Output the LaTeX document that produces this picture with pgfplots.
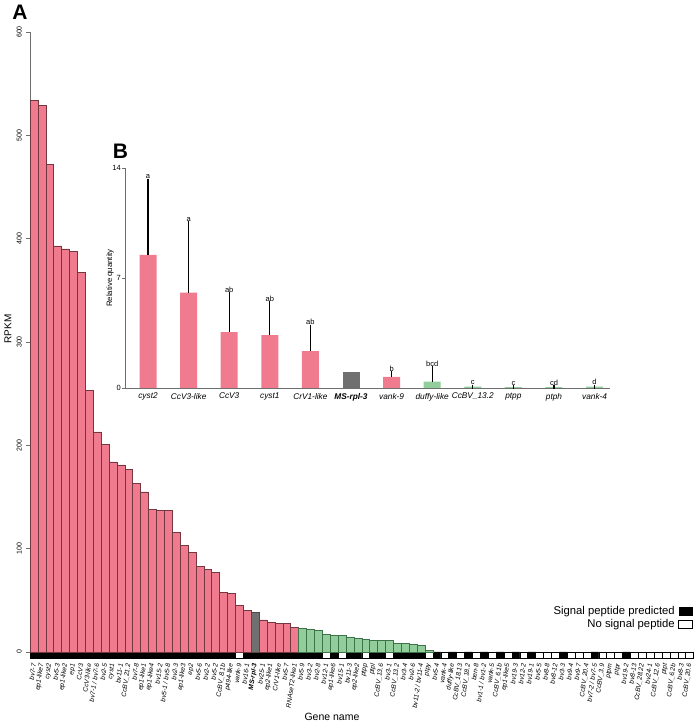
\documentclass[border=0pt]{standalone}
\usepackage{fontspec}
\setmainfont{Liberation Sans}
\usepackage{pgfplots}
\pgfplotsset{compat=1.18}
\definecolor{pinkbar}{RGB}{240,122,142}
\definecolor{pinkedge}{RGB}{115,55,65}
\definecolor{greenbar}{RGB}{146,205,156}
\definecolor{greenedge}{RGB}{60,115,72}
\definecolor{graybar}{RGB}{112,112,112}
\definecolor{axisgray}{RGB}{110,110,110}
\begin{document}
\begin{tikzpicture}[x=1pt,y=1pt]
\useasboundingbox (0,0) rectangle (694,728);
\begin{axis}[
  at={(30pt,69.3pt)}, anchor=south west,
  scale only axis, width=663.6pt, height=626.7pt,
  xmin=0.5, xmax=84.5, ymin=-6.5, ymax=600,
  axis x line*=bottom, axis y line*=left,
  x axis line style={draw=none}, y axis line style={draw=none},
  clip=false,
  /pgf/number format/assume math mode=true,
  xtick={1,...,84},
  xticklabels={bv7-7, ep1-like7, cyst2, bv5-3, ep1-like2, ep1, CcV3, CcV3-like, bv7-1 / bv7-6, bv2-5, cyst1, bv11-1, CcBV\_21.2, bv7-8, ep1-like1, ep1-like4, bv15-2, bv5-1 / bv5-8, bv2-3, ep1-like3, ep2, bv5-6, bv2-2, bv5-2, CcBV\_8.1b, p494-like, vank-9, bv16-1, \textbf{MS-rpl-3}, bv25-1, ep2-like1, CrV1-like, bv5-7, RNAseT2-like1, bv5-9, bv3-2, bv2-8, bv12-1, ep1-like6, bv15-1, bv11-3, ep2-like2, ptpp, ptpl, CcBV\_13.6, bv3-1, CcBV\_13.2, bv3-4, bv2-6, bv11-2 / bv11-4, ptpy, bv5-4, vank-4, duffy-like, CcBV\_18.13, CcBV\_18.2, ben-8, bv1-1 / bv1-2, vank-5, CcBV\_6.1b, ep1-like5, bv19-3, bv12-2, bv19-1, bv5-5, bv8-8, bv8-12, bv3-3, bv9-4, bv9-7, CcBV\_20.4, bv7-2 / bv7-5, CcBV\_3.9, ptpm, ptpr, bv19-2, bv8-13, CcBV\_28.22, bv24-1, CcBV\_12.6, ptpt, CcBV\_6.2b, bv8-3, CcBV\_20.6},
  major x tick style={draw=none},
  xticklabel style={rotate=82, anchor=east, font=\itshape\fontsize{6.6}{7}\selectfont, inner sep=1pt},
  ytick={0,100,...,600},
  tick align=outside, major tick length=4pt,
  major y tick style={axisgray, line width=0.6pt},
  yticklabel style={xshift=-3pt, rotate=90, anchor=south, font=\fontsize{7}{8}\selectfont, inner sep=1pt},
]
\draw[axisgray, line width=0.6pt] (axis cs:0.5,0) -- (axis cs:0.5,600);
% signal peptide strip
\addplot[ybar, bar width=1, bar shift=0pt, fill=black, draw=black, line width=0.5pt] coordinates {
(1,-6.3)(2,-6.3)(3,-6.3)(4,-6.3)(5,-6.3)(6,-6.3)(7,-6.3)(8,-6.3)(9,-6.3)(10,-6.3)
(11,-6.3)(12,-6.3)(13,-6.3)(14,-6.3)(15,-6.3)(16,-6.3)(17,-6.3)(18,-6.3)(19,-6.3)(20,-6.3)
(21,-6.3)(22,-6.3)(23,-6.3)(24,-6.3)(25,-6.3)(26,-6.3)(28,-6.3)(29,-6.3)(30,-6.3)
(31,-6.3)(32,-6.3)(33,-6.3)(34,-6.3)(35,-6.3)(36,-6.3)(37,-6.3)(39,-6.3)(41,-6.3)(42,-6.3)
(44,-6.3)(45,-6.3)(47,-6.3)(48,-6.3)(49,-6.3)(50,-6.3)(52,-6.3)(54,-6.3)(56,-6.3)(58,-6.3)
(60,-6.3)(62,-6.3)(64,-6.3)(68,-6.3)(72,-6.3)(76,-6.3)};
\addplot[ybar, bar width=1, bar shift=0pt, fill=white, draw=black, line width=0.5pt] coordinates {
(27,-6.3)(38,-6.3)(40,-6.3)(43,-6.3)(46,-6.3)(51,-6.3)(53,-6.3)(55,-6.3)(57,-6.3)(59,-6.3)
(61,-6.3)(63,-6.3)(65,-6.3)(66,-6.3)(67,-6.3)(69,-6.3)(70,-6.3)(71,-6.3)(73,-6.3)(74,-6.3)
(75,-6.3)(77,-6.3)(78,-6.3)(79,-6.3)(80,-6.3)(81,-6.3)(82,-6.3)(83,-6.3)(84,-6.3)};
% RPKM bars
\addplot[ybar, bar width=1, bar shift=0pt, fill=pinkbar, draw=pinkedge, line width=0.6pt] coordinates {
(1,534)(2,529)(3,472)(4,393)(5,390)(6,388)(7,367)(8,253)(9,213)(10,201)
(11,184)(12,181)(13,177)(14,163)(15,155)(16,138)(17,137)(18,137)(19,116)(20,103)
(21,96)(22,83)(23,80)(24,77)(25,58)(26,57)(27,45)(28,40)
(30,31)(31,29)(32,28)(33,28)(34,24)};
\addplot[ybar, bar width=1, bar shift=0pt, fill=graybar, draw=black!70, line width=0.6pt] coordinates {(29,38)};
\addplot[ybar, bar width=1, bar shift=0pt, fill=greenbar, draw=greenedge, line width=0.6pt] coordinates {
(35,23)(36,22)(37,21)(38,17)(39,16)(40,16)(41,14.5)(42,13.5)(43,12)(44,11)
(45,11)(46,11)(47,8)(48,8)(49,7)(50,6)(51,1.5)};
\end{axis}
% inset B
\begin{axis}[
  at={(125pt,340pt)}, anchor=south west,
  scale only axis, width=485pt, height=220pt,
  xmin=-0.567, xmax=11.38, ymin=0, ymax=14,
  axis lines*=left,
  axis line style={axisgray, line width=0.6pt},
  clip=false,
  /pgf/number format/assume math mode=true,
  xtick={0,...,11},
  xticklabels={cyst2, CcV3-like, CcV3, cyst1, CrV1-like, \textbf{MS-rpl-3}, vank-9, duffy-like, CcBV\_13.2, ptpp, ptph, vank-4},
  major x tick style={draw=none},
  xticklabel style={font=\itshape\fontsize{8.3}{9}\selectfont, inner sep=2pt},
  ytick={0,7,14},
  tick align=outside, major tick length=3pt,
  major y tick style={axisgray, line width=0.6pt},
  yticklabel style={font=\fontsize{7.5}{8}\selectfont, inner sep=1pt},
]
\addplot[ybar, bar width=17pt, bar shift=0pt, fill=pinkbar, draw=none,
  error bars/.cd, y dir=plus, y explicit,
  error bar style={black, line width=1.2pt},
  error mark options={black, line width=1.2pt, mark size=2pt}] coordinates {
(0,8.47) +- (0,4.73)
(1,6.07) +- (0,4.41)
(2,3.56) +- (0,2.42)
(3,3.37) +- (0,2.03)
(4,2.35) +- (0,1.55)
(6,0.70) +- (0,0.25)};
\addplot[ybar, bar width=17pt, bar shift=0pt, fill=graybar, draw=none] coordinates {(5,1.0)};
\addplot[ybar, bar width=17pt, bar shift=0pt, fill=greenbar, draw=none,
  error bars/.cd, y dir=plus, y explicit,
  error bar style={black, line width=1.2pt},
  error mark options={black, line width=1.2pt, mark size=2pt}] coordinates {
(7,0.40) +- (0,0.87)
(8,0.08) +- (0,0)
(9,0.05) +- (0,0)
(10,0.05) +- (0,0)
(11,0.08) +- (0,0)};
\addplot[draw=none, mark=none, nodes near coords, point meta=explicit symbolic,
  nodes near coords style={font=\fontsize{7.5}{8}\selectfont, anchor=south, inner sep=1.5pt}] coordinates {
(0,13.2)[a] (1,10.48)[a] (2,5.98)[ab] (3,5.4)[ab] (4,3.9)[ab] (6,0.95)[b] (7,1.27)[bcd]
(8,0.08)[c] (9,0.05)[c] (10,0.05)[cd] (11,0.08)[d]};
\end{axis}
% titles and labels
\node[font=\bfseries\fontsize{21}{21}\selectfont] at (20,716) {A};
\node[font=\bfseries\fontsize{21}{21}\selectfont] at (120.5,577) {B};
\node[rotate=90, font=\fontsize{10}{12}\selectfont] at (8,399) {RPKM};
\node[rotate=90, font=\fontsize{7.8}{9}\selectfont] at (110,450) {Relative quantity};
\node[font=\fontsize{10.5}{12}\selectfont] at (332,11) {Gene name};
% legend
\node[anchor=east, font=\fontsize{11.3}{13}\selectfont, inner sep=1pt] at (676,116.5) {Signal peptide predicted};
\fill[black] (678.5,112) rectangle (692.5,121);
\node[anchor=east, font=\fontsize{11.3}{13}\selectfont, inner sep=1pt] at (676,103.5) {No signal peptide};
\draw[black, fill=white, line width=0.5pt] (678.5,99.5) rectangle (692.5,108);
\end{tikzpicture}
\end{document}
